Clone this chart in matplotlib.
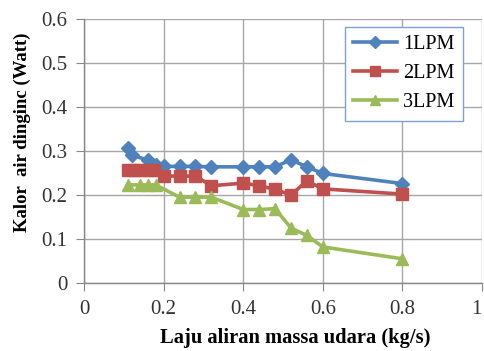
import matplotlib
matplotlib.use("Agg")
import matplotlib.pyplot as plt

x1 = [0.11, 0.12, 0.16, 0.18, 0.2, 0.24, 0.28, 0.32, 0.4, 0.44, 0.48, 0.52, 0.56, 0.6, 0.8]
y1 = [0.306, 0.29, 0.28, 0.268, 0.265, 0.265, 0.265, 0.264, 0.264, 0.264, 0.264, 0.28, 0.264, 0.249, 0.226]
x2 = [0.11, 0.125, 0.14, 0.16, 0.175, 0.2, 0.24, 0.28, 0.32, 0.4, 0.44, 0.48, 0.52, 0.56, 0.6, 0.8]
y2 = [0.257, 0.257, 0.257, 0.257, 0.257, 0.243, 0.243, 0.243, 0.221, 0.227, 0.221, 0.213, 0.200, 0.232, 0.214, 0.202]
x3 = [0.11, 0.14, 0.16, 0.18, 0.24, 0.28, 0.32, 0.4, 0.44, 0.48, 0.52, 0.56, 0.6, 0.8]
y3 = [0.223, 0.223, 0.223, 0.223, 0.195, 0.195, 0.195, 0.167, 0.167, 0.169, 0.125, 0.108, 0.082, 0.055]
labels = ["1LPM", "2LPM", "3LPM"]
xticks = [0, 0.2, 0.4, 0.6, 0.8, 1]
yticks = [0, 0.1, 0.2, 0.3, 0.4, 0.5, 0.6]

plt.rcParams['font.family'] = ['Liberation Serif', 'DejaVu Serif']

fig = plt.figure(figsize=(4.84, 3.51), dpi=100)
ax = fig.add_axes([84/484, 1-283/351, (482-84)/484, (283-19)/351])

ax.plot(x1, y1, color='#4F81BD', lw=2.6, marker='D', ms=7.5, label=labels[0], zorder=3)
ax.plot(x2, y2, color='#C0504D', lw=2.6, marker='s', ms=9, label=labels[1], zorder=3)
ax.plot(x3, y3, color='#9BBB59', lw=2.6, marker='^', ms=9, label=labels[2], zorder=3)

ax.set_xlim(0, 1)
ax.set_ylim(0, 0.6)
ax.set_xticks(xticks)
ax.set_xticklabels(['0', '0.2', '0.4', '0.6', '0.8', '1'])
ax.set_yticks(yticks)
ax.set_yticklabels(['0', '0.1', '0.2', '0.3', '0.4', '0.5', '0.6'])
ax.grid(True, color='#A6A6A6', lw=1)
ax.set_axisbelow(True)
for s in ['top', 'right']:
    ax.spines[s].set_visible(False)
for s in ['left', 'bottom']:
    ax.spines[s].set_color('#868686')
    ax.spines[s].set_linewidth(1)
ax.tick_params(direction='out', length=6, color='#868686', labelsize=15, labelcolor='#333333', pad=6)
ax.get_xticklabels()[-1].set_horizontalalignment('right')

fig.text(295/484, 1-338/351, 'Laju aliran massa udara (kg/s)', ha='center', va='center',
         fontsize=14.8, fontweight='bold')
fig.text(22/484, 1-132/351, 'Kalor  air dinginc (Watt)', ha='center', va='center',
         rotation=90, fontsize=13.5, fontweight='bold')

leg = ax.legend(loc='upper left', bbox_to_anchor=(345/484, 1-27/351), bbox_transform=fig.transFigure,
                fontsize=14.5, frameon=True, fancybox=False, edgecolor='#7BA3D4', framealpha=1,
                handlelength=2.2, handletextpad=0.3, labelspacing=0.5, borderpad=0.4,
                borderaxespad=0, markerscale=0.85)
leg.get_frame().set_linewidth(1)

fig.savefig('out.png', dpi=100)
